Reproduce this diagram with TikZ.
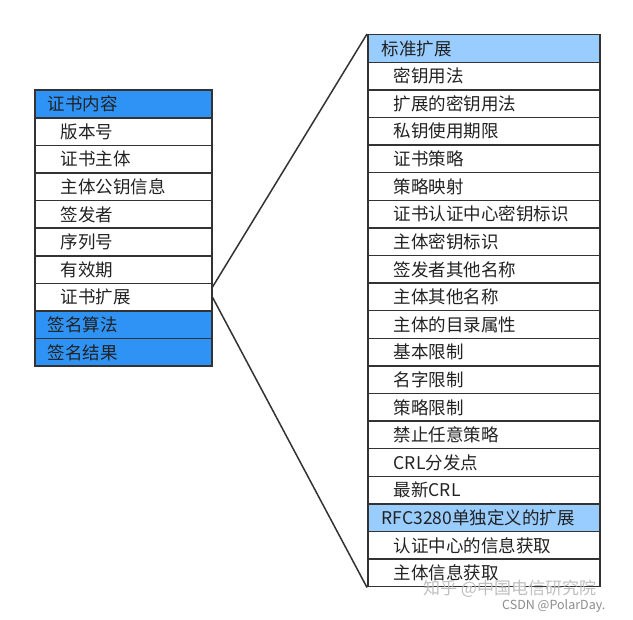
\documentclass[tikz,border=0pt]{standalone}
\usepackage{fontspec}
\setmainfont{Noto Sans CJK SC}
\usetikzlibrary{calc}
\definecolor{hdark}{HTML}{2F93F5}
\definecolor{hlight}{HTML}{99CCFF}
\definecolor{edge}{HTML}{333333}
\definecolor{txt}{HTML}{222222}
\begin{document}
\begin{tikzpicture}[x=1pt,y=-1pt,
  box/.style={draw=edge, line width=1.5pt, rectangle, anchor=north west, minimum height=27.6pt,
    font=\fontsize{17.5}{19}\selectfont, text=txt, inner ysep=0pt, align=left},
  lhead/.style={box, fill=hdark, inner xsep=13pt, text width=151pt},
  litem/.style={box, fill=white, inner xsep=26pt, text width=125pt},
  rhead/.style={box, fill=hlight, inner xsep=14pt, text width=204pt},
  ritem/.style={box, fill=white, inner xsep=26pt, text width=180pt},
  conn/.style={draw=edge, line width=1.5pt},
  wm/.style={text=black!25, inner sep=0pt}]
\useasboundingbox (0,0) rectangle (633,620);
\fill[white] (0,0) rectangle (633,620);
\foreach \t/\s [count=\i from 0] in {证书内容/lhead, 版本号/litem, 证书主体/litem, 主体公钥信息/litem,
  签发者/litem, 序列号/litem, 有效期/litem, 证书扩展/litem, 签名算法/lhead, 签名结果/lhead}
  \node[\s] (L\i) at (34, 89.5+\i*27.6) {\t};
\foreach \t/\s [count=\i from 0] in {标准扩展/rhead, 密钥用法/ritem, 扩展的密钥用法/ritem, 私钥使用期限/ritem,
  证书策略/ritem, 策略映射/ritem, 证书认证中心密钥标识/ritem, 主体密钥标识/ritem, 签发者其他名称/ritem,
  主体其他名称/ritem, 主体的目录属性/ritem, 基本限制/ritem, 名字限制/ritem, 策略限制/ritem,
  禁止任意策略/ritem, CRL分发点/ritem, 最新CRL/ritem, RFC3280单独定义的扩展/rhead,
  认证中心的信息获取/ritem, 主体信息获取/ritem}
  \node[\s] (R\i) at (367, 34+\i*27.6) {\t};
\draw[conn] ($(L7.north east)!0.15!(L7.south east)$) -- (R0.north west);
\draw[conn] (L7.east) -- (R19.south west);
\node[wm, font=\fontsize{17}{19}\selectfont, anchor=west] (wm1) at (423, 589) {知乎 @中国电信研究院};
\node[wm, text=black!45, font=\fontsize{12.5}{14}\selectfont, anchor=west] (wm2) at (502, 606) {CSDN @PolarDay.};
\end{tikzpicture}
\end{document}
